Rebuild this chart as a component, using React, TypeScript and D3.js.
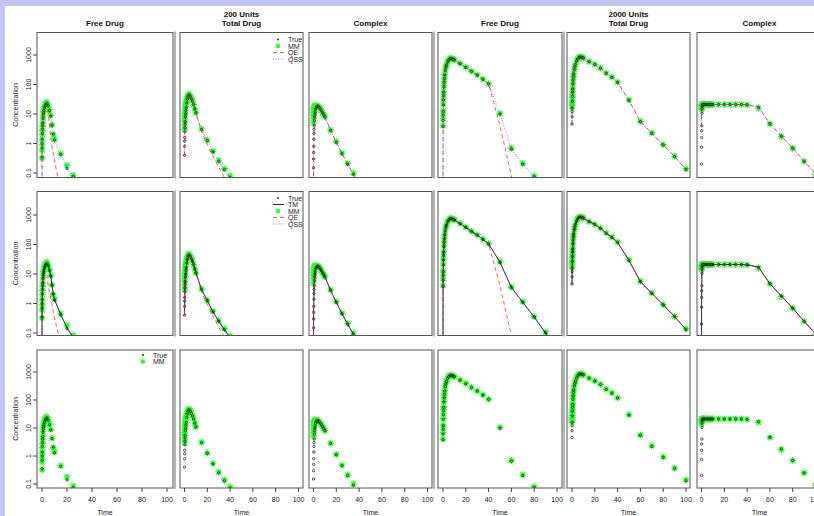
import React from 'react';
import * as d3 from 'd3';

// sampling times (same for every panel)
const times = [0, 0.05, 0.1, 0.15, 0.2, 0.3, 0.4, 0.5, 0.6, 0.8, 1, 1.25, 1.5, 2, 2.5, 3, 4, 5, 6, 7, 8, 9, 10, 15, 20, 25, 30, 35, 40, 50, 60, 70, 80, 90, 100];
const xTicks = [0, 20, 40, 60, 80, 100];
const yTicks = [0.1, 1, 10, 100, 1000];
const yTickLabels = ['0.1', '1', '10', '100', '1000'];

// 200 units - free drug
const trueFree200 = [null, 0.35, 0.7, 1.0, 1.4, 2.2, 3.0, 4.0, 5.0, 7.0, 9.0, 11, 13, 16, 19, 21, 23, 19, 13, 8.5, 4.2, 2.1, 1.3, 0.42, 0.14, 0.075, 0.025, 0.008, 0.003, null, null, null, null, null, null];
const mmFree200 = [null, 0.32, 0.6, 0.9, 1.3, 2.0, 2.8, 3.8, 5.0, 7.5, 10, 12, 14, 18, 21, 24, 25, 20, 14, 9.0, 4.3, 2.0, 1.4, 0.45, 0.18, 0.085, 0.03, 0.01, 0.004, null, null, null, null, null, null];
const qeFree200 = [0.001, 0.35, 0.7, 1.0, 1.4, 2.2, 3.0, 4.0, 5.0, 7.0, 9.0, 11, 13, 16, 18.5, 20, 19, 10, 4.5, 1.6, 0.8, 0.45, 0.28, 0.02, 0.002, null, null, null, null, null, null, null, null, null, null];
const qssFree200 = [0.001, 0.35, 0.7, 1.0, 1.4, 2.2, 3.0, 4.0, 5.0, 7.0, 9.0, 11, 13, 16, 19, 21, 22, 19, 13, 8.5, 4.2, 2.2, 1.4, 0.42, 0.15, 0.07, 0.025, 0.008, 0.003, null, null, null, null, null, null];
const tmFree200 = [0.001, 0.36, 0.7, 1.0, 1.4, 2.2, 3.0, 4.0, 5.0, 7.0, 9.0, 11, 13, 16, 19, 21, 22.5, 19, 13, 8.5, 4.2, 2.1, 1.35, 0.42, 0.15, 0.07, 0.025, 0.008, 0.003, null, null, null, null, null, null];
const qeFree200b = [0.001, 0.3, 0.6, 0.9, 1.2, 1.8, 2.4, 3.0, 3.6, 4.6, 5.5, 6.5, 7.3, 8.5, 9.3, 9.7, 9.0, 4.0, 2.2, 1.5, 0.9, 0.55, 0.33, 0.04, 0.005, null, null, null, null, null, null, null, null, null, null];

// 200 units - total drug
const trueTotal200 = [null, 0.4, 0.8, 1.2, 1.6, 2.5, 3.4, 4.5, 5.5, 8, 10, 13, 16, 24, 32, 40, 45, 40, 33, 27, 21, 15, 11, 3.0, 1.25, 0.52, 0.25, 0.13, 0.07, 0.02, 0.005, null, null, null, null];
const mmTotal200 = [null, 3.0, 4.0, 5.5, 7, 9, 11, 13, 15, 18, 21, 24, 27, 33, 38, 44, 48, 42, 34, 27, 21, 15, 11, 3.1, 1.3, 0.55, 0.27, 0.14, 0.08, 0.02, null, null, null, null, null];
const qeTotal200 = [0.4, 0.4, 0.8, 1.2, 1.6, 2.5, 3.4, 4.5, 5.5, 8, 10, 13, 16, 24, 32, 40, 45, 40, 33, 26, 20, 14, 10.5, 2.6, 0.9, 0.38, 0.16, 0.07, 0.03, 0.005, null, null, null, null, null];
const qssTotal200 = [0.4, 0.4, 0.8, 1.2, 1.6, 2.5, 3.4, 4.5, 5.5, 8, 10, 13, 16, 24, 32, 40, 45, 40, 33, 27, 21, 15, 11, 3.0, 1.25, 0.52, 0.25, 0.13, 0.07, 0.02, 0.005, null, null, null, null];
const tmTotal200 = [0.45, 0.42, 0.8, 1.2, 1.6, 2.5, 3.4, 4.5, 5.5, 8, 10, 13, 16, 24, 32, 40, 45, 40, 33, 27, 21, 15, 11, 3.0, 1.25, 0.52, 0.25, 0.13, 0.07, 0.02, 0.005, null, null, null, null];

// 200 units - complex
const trueComplex200 = [null, 0.15, 0.3, 0.5, 0.8, 1.4, 2.2, 3, 4, 6, 8, 10, 12, 15, 17, 18, 18.5, 17, 15, 13, 11, 9.5, 8, 2.8, 1.1, 0.45, 0.2, 0.09, 0.04, 0.008, null, null, null, null, null];
const mmComplex200 = [null, 5, 7, 9, 11, 13, 15, 16, 17, 18, 18.5, 19, 19, 19, 19, 18.5, 18, 17, 15, 13, 11, 9.5, 8, 2.9, 1.15, 0.47, 0.21, 0.1, 0.045, 0.009, null, null, null, null, null];
const qeComplex200 = [0.001, 0.15, 0.3, 0.5, 0.8, 1.4, 2.2, 3, 4, 6, 8, 10, 12, 15, 17, 18, 18.5, 17, 15, 13, 11, 9.5, 8, 2.8, 1.1, 0.45, 0.2, 0.09, 0.04, 0.008, null, null, null, null, null];
const qssComplex200 = [0.001, 0.15, 0.3, 0.5, 0.8, 1.4, 2.2, 3, 4, 6, 8, 10, 12, 15, 17, 18, 18.5, 17, 15, 13, 11, 9.5, 8, 2.8, 1.1, 0.45, 0.2, 0.09, 0.04, 0.008, null, null, null, null, null];
const tmComplex200 = [0.001, 0.15, 0.3, 0.5, 0.8, 1.4, 2.2, 3, 4, 6, 8, 10, 12, 15, 17, 18, 18.5, 17, 15, 13, 11, 9.5, 8, 2.8, 1.1, 0.45, 0.2, 0.09, 0.04, 0.008, null, null, null, null, null];

// 2000 units - free drug (row 2 uses its own simulated truth)
const trueFree2000 = [null, 3.8, 6, 9, 12, 20, 30, 42, 55, 85, 120, 160, 210, 300, 380, 450, 580, 680, 740, 760, 740, 710, 680, 510, 380, 280, 210, 150, 105, 10, 0.65, 0.2, 0.075, 0.025, 0.008];
const mmFree2000 = [null, 4, 7, 10, 13, 22, 32, 45, 58, 90, 125, 165, 215, 310, 390, 460, 590, 690, 750, 770, 745, 715, 680, 520, 390, 285, 212, 152, 107, 10.5, 0.7, 0.21, 0.08, 0.028, null];
const trueFree2000b = [null, 3.8, 6, 9, 12, 20, 30, 42, 55, 85, 120, 160, 210, 300, 380, 450, 580, 680, 740, 760, 740, 710, 680, 510, 380, 280, 210, 150, 105, 25, 3.5, 1.1, 0.35, 0.1, 0.03];
const mmFree2000b = [null, 4, 7, 10, 13, 22, 32, 45, 58, 90, 125, 165, 215, 310, 390, 460, 590, 690, 750, 770, 745, 715, 680, 520, 390, 285, 212, 152, 107, 26, 3.6, 1.15, 0.36, 0.11, 0.03];
const qeFree2000 = [0.001, 3.8, 6, 9, 12, 20, 30, 42, 55, 85, 120, 160, 210, 300, 380, 450, 580, 680, 740, 760, 740, 710, 680, 510, 380, 280, 210, 150, 105, 4, 0.08, 0.001, null, null, null];
const qssFree2000 = [0.001, 3.8, 6, 9, 12, 20, 30, 42, 55, 85, 120, 160, 210, 300, 380, 450, 580, 680, 740, 760, 740, 710, 680, 510, 380, 280, 210, 150, 105, 10, 0.65, 0.2, 0.075, 0.025, 0.008];
const tmFree2000 = [0.001, 3.8, 6, 9, 12, 20, 30, 42, 55, 85, 120, 160, 210, 300, 380, 450, 580, 680, 740, 760, 740, 710, 680, 510, 380, 280, 210, 150, 105, 25, 3.5, 1.1, 0.35, 0.1, 0.03];
const qssFree2000b = [0.001, 3.8, 6, 9, 12, 20, 30, 42, 55, 85, 120, 160, 210, 300, 380, 450, 580, 680, 740, 760, 740, 710, 680, 510, 380, 280, 210, 150, 105, 24, 3.3, 1.05, 0.33, 0.09, 0.03];

// 2000 units - total drug
const trueTotal2000 = [null, 4.6, 8, 12, 16, 27, 40, 55, 70, 105, 140, 185, 230, 320, 400, 480, 620, 740, 820, 860, 850, 820, 790, 600, 480, 355, 240, 175, 118, 29, 5.5, 2.2, 0.9, 0.36, 0.13];
const mmTotal2000 = [null, 16, 20, 24, 28, 36, 46, 60, 75, 110, 145, 190, 235, 325, 405, 485, 625, 745, 825, 865, 850, 820, 790, 600, 485, 360, 245, 178, 120, 30, 5.6, 2.3, 0.92, 0.37, 0.14];
const qeTotal2000 = [4.6, 4.6, 8, 12, 16, 27, 40, 55, 70, 105, 140, 185, 230, 320, 400, 480, 620, 740, 820, 860, 850, 820, 790, 600, 480, 355, 240, 175, 118, 29, 5.5, 2.2, 0.9, 0.36, 0.13];
const qssTotal2000 = [4.6, 4.6, 8, 12, 16, 27, 40, 55, 70, 105, 140, 185, 230, 320, 400, 480, 620, 740, 820, 860, 850, 820, 790, 600, 480, 355, 240, 175, 118, 29, 5.5, 2.2, 0.9, 0.36, 0.13];
const tmTotal2000 = [4.6, 4.6, 8, 12, 16, 27, 40, 55, 70, 105, 140, 185, 230, 320, 400, 480, 620, 740, 820, 860, 850, 820, 790, 600, 480, 355, 240, 175, 118, 29, 5.5, 2.2, 0.9, 0.36, 0.13];

// 2000 units - complex
const trueComplex2000 = [null, 0.2, 0.75, 1.6, 2.7, 4, 10.5, 15, 18, 20, 20.5, 21, 21, 21, 21, 21, 21, 21, 21, 21, 21, 21, 21, 21, 21, 21, 21, 21, 20.5, 17, 4.7, 1.8, 0.7, 0.25, 0.095];
const mmComplex2000 = [null, 14, 16, 18, 19, 20, 20.5, 21, 21, 21, 21, 21, 21, 21, 21, 21, 21, 21, 21, 21, 21, 21, 21, 21, 21, 21, 21, 21, 20.5, 16, 4.6, 1.7, 0.68, 0.25, 0.09];
const qeComplex2000 = [3.8, 15, 18, 19, 20, 20.5, 21, 21, 21, 21, 21, 21, 21, 21, 21, 21, 21, 21, 21, 21, 21, 21, 21, 21, 21, 21, 21, 21, 20.5, 17, 4.7, 1.8, 0.7, 0.25, 0.095];
const qssComplex2000 = [3.8, 15, 18, 19, 20, 20.5, 21, 21, 21, 21, 21, 21, 21, 21, 21, 21, 21, 21, 21, 21, 21, 21, 21, 21, 21, 21, 21, 21, 20.5, 17, 4.7, 1.8, 0.7, 0.25, 0.095];
const tmComplex2000 = [0.001, 0.2, 0.75, 1.6, 2.7, 4, 10.5, 15, 18, 20, 20.5, 21, 21, 21, 21, 21, 21, 21, 21, 21, 21, 21, 21, 21, 21, 21, 21, 21, 20.5, 17, 4.7, 1.8, 0.7, 0.25, 0.095];

const columns = [
  { title: ['Free Drug'], truth: trueFree200, mm: mmFree200, r1: { qe: qeFree200, qss: qssFree200 }, r2: { tm: tmFree200, qe: qeFree200b, qss: qssFree200 } },
  { title: ['200 Units', 'Total Drug'], truth: trueTotal200, mm: mmTotal200, r1: { qe: qeTotal200, qss: qssTotal200 }, r2: { tm: tmTotal200, qe: qeTotal200, qss: qssTotal200 } },
  { title: ['Complex'], truth: trueComplex200, mm: mmComplex200, r1: { qe: qeComplex200, qss: qssComplex200 }, r2: { tm: tmComplex200, qe: qeComplex200, qss: qssComplex200 } },
  { title: ['Free Drug'], truth: trueFree2000, mm: mmFree2000, truth2: trueFree2000b, mm2: mmFree2000b, r1: { qe: qeFree2000, qss: qssFree2000 }, r2: { tm: tmFree2000, qe: qeFree2000, qss: qssFree2000b } },
  { title: ['2000 Units', 'Total Drug'], truth: trueTotal2000, mm: mmTotal2000, r1: { qe: qeTotal2000, qss: qssTotal2000 }, r2: { tm: tmTotal2000, qe: qeTotal2000, qss: qssTotal2000 } },
  { title: ['Complex'], truth: trueComplex2000, mm: mmComplex2000, r1: { qe: qeComplex2000, qss: qssComplex2000 }, r2: { tm: tmComplex2000, qe: qeComplex2000, qss: qssComplex2000 } },
];

// panel geometry (pixels)
const colBox = [
  { l: 37, r: 173, x0: 42, x1: 167, shade: true },
  { l: 180, r: 303, x0: 184.5, x1: 298.5, shade: false },
  { l: 309, r: 432, x0: 313.5, x1: 427.5, shade: true },
  { l: 438, r: 562, x0: 443, x1: 557, shade: true },
  { l: 567, r: 690, x0: 572, x1: 686, shade: false },
  { l: 697, r: 822, x0: 701.5, x1: 815.5, shade: false },
];
const rowBox = [
  { t: 32.5, b: 177.5, y0: 173, y1: 55 },
  { t: 191.5, b: 335.5, y0: 333, y1: 215 },
  { t: 350, b: 488, y0: 484, y1: 372 },
];

const GREEN = '#22ff22';
const font = '"Liberation Sans", Arial, sans-serif';
const star = (s: number) => `M${-s},0H${s}M0,${-s}V${s}M${-s * 0.72},${-s * 0.72}L${s * 0.72},${s * 0.72}M${-s * 0.72},${s * 0.72}L${s * 0.72},${-s * 0.72}`;

const lineStyle: Record<string, any> = {
  qe: { stroke: '#ff2020', strokeDasharray: '4,3', opacity: 0.75 },
  qss: { stroke: '#3030ff', strokeDasharray: '1,1.6', opacity: 0.6 },
  tm: { stroke: '#111', opacity: 0.85 },
};

function Panel({ ci, ri }: { ci: number; ri: number }) {
  const c = colBox[ci];
  const r = rowBox[ri];
  const col: any = columns[ci];
  const truth: (number | null)[] = ri === 1 && col.truth2 ? col.truth2 : col.truth;
  const mm: (number | null)[] = ri === 1 && col.mm2 ? col.mm2 : col.mm;
  const x = d3.scaleLinear().domain([0, 100]).range([c.x0, c.x1]);
  const y = d3.scaleLog().domain([0.1, 1000]).range([r.y0, r.y1]);
  const path = (vals: (number | null)[]) =>
    d3.line<number | null>()
      .defined((v) => v != null && v > 0)
      .x((_, i) => x(times[i]))
      .y((v) => y(v as number))(vals) || '';
  const clipId = `clip-${ri}-${ci}`;
  const lines = ri === 0 ? [['qe', col.r1.qe], ['qss', col.r1.qss]] : ri === 1 ? [['tm', col.r2.tm], ['qe', col.r2.qe], ['qss', col.r2.qss]] : [];
  return (
    <g>
      <clipPath id={clipId}>
        <rect x={c.l} y={r.t} width={c.r - c.l} height={r.b - r.t} />
      </clipPath>
      <g clipPath={`url(#${clipId})`}>
        {mm.map((v, i) => v != null && v > 0 ? (
          <path key={'m' + i} d={star(3.4)} transform={`translate(${x(times[i])},${y(v)})`} stroke={GREEN} strokeWidth={1.2} fill="none" />
        ) : null)}
        {truth.map((v, i) => v != null && v > 0 ? (
          <circle key={'t' + i} cx={x(times[i])} cy={y(v)} r={1.2} stroke="#222" strokeWidth={0.8} fill="none" />
        ) : null)}
        {lines.map(([k, vals]: any) => (
          <path key={k} d={path(vals)} fill="none" strokeWidth={1} {...lineStyle[k]} />
        ))}
      </g>
      <rect x={c.l} y={r.t} width={c.r - c.l} height={r.b - r.t} fill="none" stroke="#555" strokeWidth={1} />
      {c.shade && <line x1={c.r + 2} x2={c.r + 2} y1={r.t - 1} y2={r.b + 1} stroke="#b4b4b4" strokeWidth={2} />}
      {ci === 0 && (
        <g fontFamily={font} fontSize={7} fill="#222">
          {yTicks.map((t, i) => (
            <g key={t}>
              <line x1={c.l} x2={c.l - 4} y1={y(t)} y2={y(t)} stroke="#444" />
              <text transform={`translate(31,${y(t)}) rotate(-90)`} textAnchor="middle">{yTickLabels[i]}</text>
            </g>
          ))}
          <text transform={`translate(18,${(r.t + r.b) / 2}) rotate(-90)`} textAnchor="middle">Concentration</text>
        </g>
      )}
      {ri === 2 && (
        <g fontFamily={font} fontSize={7} fill="#222">
          {xTicks.map((t) => (
            <g key={t}>
              <line x1={x(t)} x2={x(t)} y1={r.b} y2={r.b + 4} stroke="#444" />
              <text x={x(t)} y={501.5} textAnchor="middle">{t}</text>
            </g>
          ))}
          <text x={(c.l + c.r) / 2} y={515} textAnchor="middle">Time</text>
        </g>
      )}
    </g>
  );
}

function Legend({ x0, y0, items }: { x0: number; y0: number; items: string[] }) {
  const labels: Record<string, string> = { truth: 'True', tm: 'TM', mm: 'MM', qe: 'QE', qss: 'QSS' };
  return (
    <g fontFamily={font} fontSize={7} fill="#222">
      {items.map((k, i) => {
        const yy = y0 + i * 6.5;
        return (
          <g key={k}>
            {k === 'truth' && <circle cx={x0 + 5} cy={yy} r={1.1} fill="#333" />}
            {k === 'mm' && <path d={star(2.5)} transform={`translate(${x0 + 5},${yy})`} stroke={GREEN} strokeWidth={1.2} />}
            {(k === 'qe' || k === 'qss' || k === 'tm') && (
              <line x1={x0} x2={x0 + 11} y1={yy} y2={yy} strokeWidth={1} {...lineStyle[k]} />
            )}
            <text x={x0 + 15} y={yy + 2.5}>{labels[k]}</text>
          </g>
        );
      })}
    </g>
  );
}

export default function App() {
  return (
    <svg width={814} height={516} style={{ position: 'absolute', left: 0, top: 0 }}>
      <rect x={0} y={0} width={814} height={516} fill="#c3c6f2" />
      <rect x={5} y={6} width={809} height={510} fill="#fff" />
      {columns.map((col, ci) => (
        <g key={ci} fontFamily={font} fontSize={8} fontWeight="bold" fill="#111" textAnchor="middle">
          {col.title.map((t, k) => (
            <text key={k} x={(colBox[ci].l + colBox[ci].r) / 2} y={26 - (col.title.length - 1 - k) * 9}>{t}</text>
          ))}
        </g>
      ))}
      {[0, 1, 2].map((ri) => columns.map((_, ci) => <Panel key={`${ri}-${ci}`} ci={ci} ri={ri} />))}
      <Legend x0={273} y0={39.5} items={['truth', 'mm', 'qe', 'qss']} />
      <Legend x0={273} y0={198} items={['truth', 'tm', 'mm', 'qe', 'qss']} />
      <Legend x0={138} y0={355} items={['truth', 'mm']} />
    </svg>
  );
}
